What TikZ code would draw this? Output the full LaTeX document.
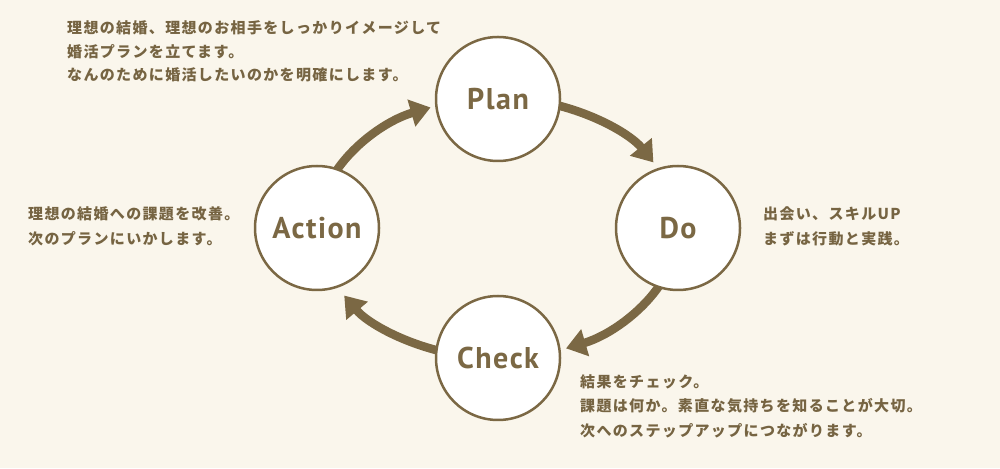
\documentclass[tikz,border=0pt]{standalone}
\usepackage{fontspec}
\newfontfamily\cjk[LetterSpace=9]{Noto Sans CJK JP}
\newfontfamily\labfont[LetterSpace=5]{PT Sans}
\usetikzlibrary{arrows.meta,calc}
\definecolor{bg}{RGB}{250,246,236}
\definecolor{brn}{RGB}{123,104,68}
\definecolor{txt}{RGB}{118,100,66}
\tikzset{
  stage/.style={circle, draw=brn, line width=2.5pt, fill=white, minimum size=124pt,
    inner sep=0pt, text=brn, font=\labfont\bfseries\fontsize{30}{30}\selectfont,
    text height=22pt, text depth=0pt},
  arr/.style={line width=8.5pt, draw=brn, -{Triangle[length=20pt,width=27pt]}},
  desc/.style={anchor=base west, inner sep=0pt, text=txt,
    font=\cjk\bfseries\fontsize{15}{24}\selectfont}
}
\begin{document}
\begin{tikzpicture}[x=1pt,y=1pt]
\fill[bg] (0,0) rectangle (1000,468);
\useasboundingbox (0,0) rectangle (1000,468);
\coordinate (O) at (498,240);
% arrows
\draw[arr] ($(O)+(72:180 and 130)$) arc[start angle=72, end angle=30.3, x radius=180, y radius=130];
\draw[arr] ($(O)+(-25:180 and 130)$) arc[start angle=-25, end angle=-67.8, x radius=180, y radius=130];
\draw[arr] ($(O)+(-107:180 and 130)$) arc[start angle=-107, end angle=-148.7, x radius=180, y radius=130];
\draw[arr] ($(O)+(155:180 and 130)$) arc[start angle=155, end angle=112, x radius=180, y radius=130];
% stages
\node[stage] (plan) at (498,369) {Plan};
\node[stage] (do) at (678,240) {Do};
\node[stage] (check) at (498,110) {Check};
\node[stage] (action) at (317,240) {Action};
% texts
\node[desc] (t1) at (67,434) {理想の結婚、理想のお相手をしっかりイメージして};
\node[desc] (t2) at (67,410.5) {婚活プランを立てます。};
\node[desc] (t3) at (67,387) {なんのために婚活したいのかを明確にします。};
\node[desc] (l1) at (28,248) {理想の結婚への課題を改善。};
\node[desc] (l2) at (28,223) {次のプランにいかします。};
\node[desc] (r1) at (763,248) {出会い、スキルUP};
\node[desc] (r2) at (763,223) {まずは行動と実践。};
\node[desc] (b1) at (580,80.5) {結果をチェック。};
\node[desc] (b2) at (580,56) {課題は何か。素直な気持ちを知ることが大切。};
\node[desc] (b3) at (580,31.5) {次へのステップアップにつながります。};
\end{tikzpicture}
\end{document}
